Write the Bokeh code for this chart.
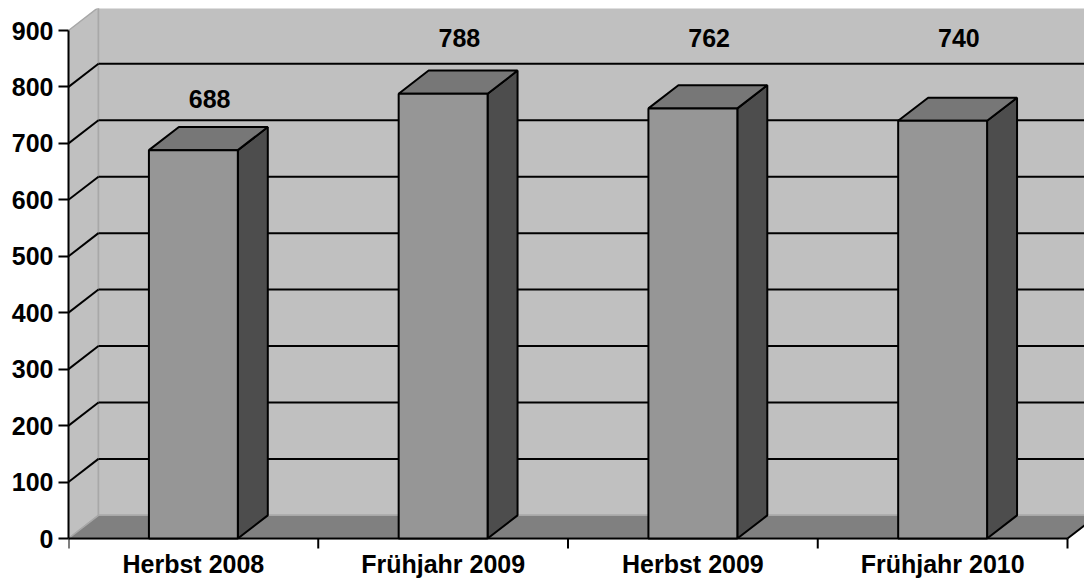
from bokeh.plotting import figure
from bokeh.models import Range1d, FixedTicker, ColumnDataSource
from bokeh.embed import file_html
from bokeh.resources import INLINE
from bokeh.core.properties import value

categories = ["Herbst 2008", "Frühjahr 2009", "Herbst 2009", "Frühjahr 2010"]
values = [688, 788, 762, 740]
y_ticks = [0, 100, 200, 300, 400, 500, 600, 700, 800, 900]

# geometry (data units)
DX = 0.12      # depth offset in x (category units)
DY = 41        # depth offset in y (value units)
BW = 0.356     # bar width
YMAX = 900
N = len(categories)
LABEL_GAP = 91
LABEL_TOP = 886

FONT = "Liberation Sans"
FS = "25px"

W, H = 1084, 578
LEFT, TOP = 68, 8
ZERO_PX = 538                 # pixel row of value 0
PX_PER_CAT = 249.75
PX_PER_VAL = 508 / 900
xend = (W - LEFT) / PX_PER_CAT
ystart = -(H - ZERO_PX) / PX_PER_VAL
yend = (ZERO_PX - TOP) / PX_PER_VAL
TICK = 10 / PX_PER_VAL
CAT_LABEL_Y = -25 / PX_PER_VAL

p = figure(width=W, height=H, output_backend="svg", toolbar_location=None,
           x_axis_location=None,
           x_range=Range1d(0, xend), y_range=Range1d(ystart, yend),
           min_border_left=LEFT, min_border_right=0, min_border_top=TOP, min_border_bottom=0)
p.outline_line_color = None
p.background_fill_color = "white"
p.border_fill_color = "white"
p.xgrid.visible = False
p.ygrid.visible = False

# walls
p.patch([0, 0, DX, DX], [0, YMAX, YMAX + DY, DY], fill_color="#c0c0c0", line_color="#a8a8a8", line_width=1.5)
p.patch([DX, N + DX, N + DX, DX], [DY, DY, YMAX + DY, YMAX + DY], fill_color="#c0c0c0", line_color="#a8a8a8", line_width=1.5)

# gridlines
for v in y_ticks[1:-1]:
    p.line([DX, N + DX], [v + DY, v + DY], line_color="black", line_width=2)
    p.line([0, DX], [v, v + DY], line_color="black", line_width=2)

# floor
p.patch([0, N, N + DX, DX], [0, 0, DY, DY], fill_color="#808080", line_color="#a8a8a8", line_width=1.5)
p.line([N, N + DX], [0, DY], line_color="black", line_width=2)

# category axis: line and tick marks at category boundaries
p.line([0, N], [0, 0], line_color="black", line_width=2)
p.segment(x0=list(range(N + 1)), y0=[0] * (N + 1), x1=list(range(N + 1)), y1=[-TICK] * (N + 1),
          line_color="black", line_width=2)

# bars
for i, v in enumerate(values):
    x0 = i + 0.5 - BW / 2
    x1 = i + 0.5 + BW / 2
    p.patch([x1, x1 + DX, x1 + DX, x1], [0, DY, v + DY, v], fill_color="#4d4d4d", line_color="black", line_width=2)
    p.patch([x0, x1, x1 + DX, x0 + DX], [v, v, v + DY, v + DY], fill_color="#777777", line_color="black", line_width=2)
    p.patch([x0, x1, x1, x0], [0, 0, v, v], fill_color="#969696", line_color="black", line_width=2)

# data labels (pinned to the top of the plot area when close to it)
lab = ColumnDataSource(dict(
    x=[i + 0.5 + DX / 2 + 0.005 for i in range(N)],
    y=[LABEL_TOP if v + LABEL_GAP > LABEL_TOP - 60 else v + LABEL_GAP for v in values],
    t=[str(v) for v in values]))
p.text("x", "y", text="t", source=lab, text_align="center", text_baseline="middle",
       text_font=value(FONT), text_font_style="bold", text_font_size=FS, text_color="black")

# category labels
cat_src = ColumnDataSource(dict(x=[i + 0.5 for i in range(N)], y=[CAT_LABEL_Y] * N, t=categories))
p.text("x", "y", text="t", source=cat_src, text_align="center", text_baseline="middle",
       text_font=value(FONT), text_font_style="bold", text_font_size=FS, text_color="black")

# value axis
p.yaxis.ticker = FixedTicker(ticks=y_ticks)
p.yaxis.bounds = (0, YMAX)
p.yaxis.axis_line_width = 2
p.yaxis.axis_line_color = "black"
p.yaxis.major_tick_line_width = 2
p.yaxis.major_tick_out = 10
p.yaxis.major_tick_in = 0
p.yaxis.minor_tick_line_color = None
p.yaxis.major_label_standoff = 5
p.yaxis.major_label_text_font = FONT
p.yaxis.major_label_text_font_style = "bold"
p.yaxis.major_label_text_font_size = FS
p.yaxis.major_label_text_color = "black"

open("out.html", "w").write(file_html(p, INLINE))
